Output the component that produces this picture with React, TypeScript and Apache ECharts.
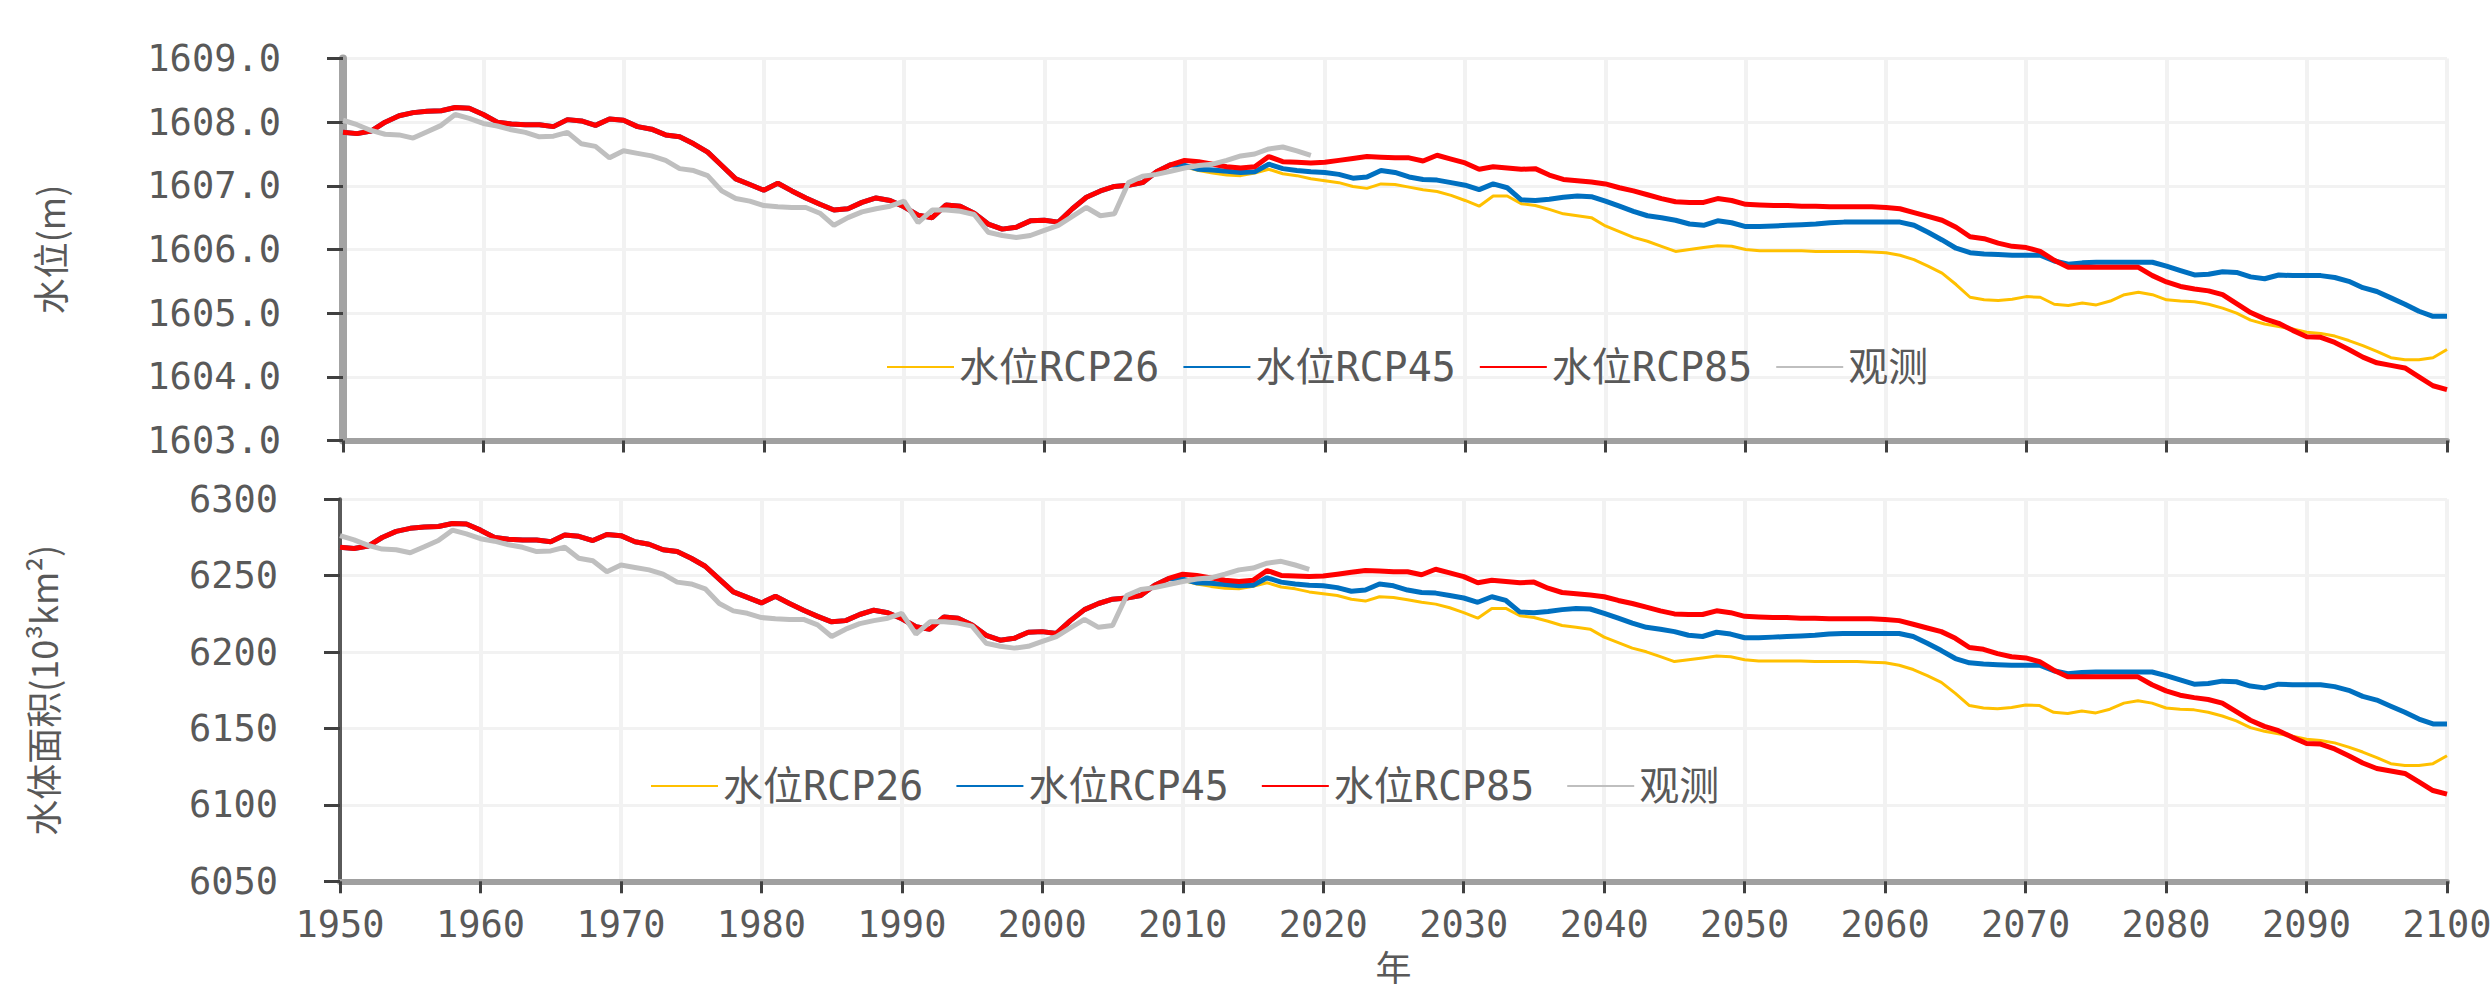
import React, { useEffect, useRef } from "react";
import * as echarts from "echarts";

// ---------- data ----------
const HIST_START = 1950;
const SCEN_START = 2010;
const OBS_START = 1950;

const seriesNames = ["水位RCP26", "水位RCP45", "水位RCP85", "观测"];
const seriesColors = ["#FFC000", "#0070C0", "#FF0000", "#BFBFBF"];

// 水位 (m)
const histLevel = [
  1607.84, 1607.82, 1607.86, 1608.0, 1608.1, 1608.15, 1608.17, 1608.18, 1608.23, 1608.22,
  1608.12, 1608.0, 1607.97, 1607.96, 1607.96, 1607.93, 1608.04, 1608.02, 1607.95, 1608.05,
  1608.03, 1607.93, 1607.89, 1607.8, 1607.77, 1607.66, 1607.53, 1607.32, 1607.11, 1607.02,
  1606.93, 1607.04, 1606.92, 1606.81, 1606.71, 1606.62, 1606.64, 1606.74, 1606.81, 1606.77,
  1606.67, 1606.54, 1606.5, 1606.7, 1606.68, 1606.57, 1606.4, 1606.32, 1606.35, 1606.45,
  1606.46, 1606.43, 1606.64, 1606.82, 1606.92, 1606.99, 1607.01, 1607.05, 1607.22, 1607.33,
];
const rcp26Level = [
  1607.3, 1607.24, 1607.2, 1607.17, 1607.16, 1607.2, 1607.26, 1607.19, 1607.16, 1607.11,
  1607.08, 1607.05, 1606.99, 1606.96, 1607.03, 1607.02, 1606.98, 1606.94, 1606.91, 1606.85,
  1606.77, 1606.68, 1606.84, 1606.84, 1606.72, 1606.69, 1606.63, 1606.56, 1606.53, 1606.5,
  1606.37, 1606.28, 1606.19, 1606.13, 1606.05, 1605.97, 1606.0, 1606.03, 1606.06, 1606.05,
  1606.0, 1605.98, 1605.98, 1605.98, 1605.98, 1605.97, 1605.97, 1605.97, 1605.97, 1605.96,
  1605.95, 1605.91, 1605.84, 1605.74, 1605.63, 1605.45, 1605.25, 1605.21, 1605.2, 1605.22,
  1605.26, 1605.25, 1605.14, 1605.12, 1605.16, 1605.13, 1605.19, 1605.29, 1605.33, 1605.29,
  1605.21, 1605.19, 1605.18, 1605.14, 1605.08, 1605.0, 1604.89, 1604.83, 1604.79, 1604.75,
  1604.7, 1604.68, 1604.64, 1604.57, 1604.49, 1604.4, 1604.3, 1604.27, 1604.27, 1604.3,
  1604.43,
];
const rcp45Level = [
  1607.32, 1607.26, 1607.25, 1607.23, 1607.21, 1607.22, 1607.34, 1607.27, 1607.24, 1607.22,
  1607.21, 1607.18, 1607.12, 1607.14, 1607.24, 1607.21, 1607.14, 1607.1, 1607.09, 1607.05,
  1607.01, 1606.94, 1607.03, 1606.97, 1606.78, 1606.77, 1606.79, 1606.82, 1606.84, 1606.83,
  1606.76, 1606.68, 1606.6, 1606.53, 1606.5, 1606.46, 1606.4, 1606.38, 1606.45, 1606.42,
  1606.36, 1606.36, 1606.37, 1606.38, 1606.39, 1606.4, 1606.42, 1606.43, 1606.43, 1606.43,
  1606.43, 1606.43, 1606.38, 1606.27, 1606.15, 1606.02, 1605.95, 1605.93, 1605.92, 1605.91,
  1605.91, 1605.91, 1605.82, 1605.77, 1605.79, 1605.8, 1605.8, 1605.8, 1605.8, 1605.8,
  1605.74, 1605.67, 1605.6, 1605.61, 1605.65, 1605.64, 1605.57, 1605.54, 1605.6, 1605.59,
  1605.59, 1605.59, 1605.56, 1605.5, 1605.4, 1605.34, 1605.24, 1605.14, 1605.03, 1604.95,
  1604.95,
];
const rcp85Level = [
  1607.4, 1607.38, 1607.34, 1607.3, 1607.28, 1607.3, 1607.46, 1607.38, 1607.37, 1607.36,
  1607.37, 1607.4, 1607.43, 1607.46, 1607.45, 1607.44, 1607.44, 1607.39, 1607.48, 1607.42,
  1607.36, 1607.26, 1607.3, 1607.28, 1607.26, 1607.27, 1607.17, 1607.1, 1607.08, 1607.06,
  1607.03, 1606.97, 1606.92, 1606.86, 1606.8, 1606.75, 1606.74, 1606.74, 1606.8, 1606.77,
  1606.71, 1606.7, 1606.69, 1606.69, 1606.68, 1606.68, 1606.67, 1606.67, 1606.67, 1606.67,
  1606.66, 1606.64, 1606.58, 1606.52, 1606.46, 1606.35, 1606.2, 1606.17, 1606.1, 1606.05,
  1606.03, 1605.97, 1605.83, 1605.72, 1605.72, 1605.72, 1605.72, 1605.72, 1605.72, 1605.59,
  1605.49, 1605.42, 1605.38, 1605.35, 1605.29, 1605.15, 1605.01, 1604.91, 1604.84, 1604.73,
  1604.63, 1604.62, 1604.54, 1604.43, 1604.31, 1604.22, 1604.18, 1604.14, 1604.0, 1603.86,
  1603.8,
];
const obsLevel = [
  1608.03, 1607.96, 1607.87, 1607.81, 1607.8, 1607.75, 1607.85, 1607.95, 1608.12, 1608.06,
  1607.98, 1607.94, 1607.88, 1607.84, 1607.77, 1607.78, 1607.84, 1607.66, 1607.62, 1607.44,
  1607.55, 1607.51, 1607.47, 1607.4, 1607.27, 1607.24, 1607.16, 1606.92, 1606.8, 1606.76,
  1606.69, 1606.67, 1606.66, 1606.66, 1606.57, 1606.38, 1606.5, 1606.59, 1606.64, 1606.68,
  1606.76, 1606.42, 1606.62, 1606.62, 1606.6, 1606.55, 1606.27, 1606.22, 1606.19, 1606.22,
  1606.3, 1606.38, 1606.52, 1606.66, 1606.53, 1606.56, 1607.05, 1607.15, 1607.18, 1607.23,
  1607.28, 1607.32, 1607.34, 1607.4, 1607.47, 1607.5, 1607.58, 1607.61, 1607.55, 1607.48,
];

// 水体面积 (10^3 km^2)
const histArea = [
  6268.6, 6267.8, 6269.4, 6275.0, 6279.0, 6281.0, 6281.8, 6282.2, 6284.2, 6283.8,
  6279.8, 6275.0, 6273.8, 6273.4, 6273.4, 6272.2, 6276.6, 6275.8, 6273.0, 6277.0,
  6276.2, 6272.2, 6270.6, 6267.0, 6265.8, 6261.4, 6256.2, 6247.8, 6239.4, 6235.8,
  6232.2, 6236.6, 6231.8, 6227.4, 6223.4, 6219.8, 6220.6, 6224.6, 6227.4, 6225.8,
  6221.8, 6216.6, 6215.0, 6223.0, 6222.2, 6217.8, 6211.0, 6207.8, 6209.0, 6213.0,
  6213.4, 6212.2, 6220.6, 6227.8, 6231.8, 6234.6, 6235.4, 6237.0, 6243.8, 6248.2,
];
const rcp26Area = [
  6247.0, 6244.6, 6243.0, 6241.8, 6241.4, 6243.0, 6245.4, 6242.6, 6241.4, 6239.4,
  6238.2, 6237.0, 6234.6, 6233.4, 6236.2, 6235.8, 6234.2, 6232.6, 6231.4, 6229.0,
  6225.8, 6222.2, 6228.6, 6228.6, 6223.8, 6222.6, 6220.2, 6217.4, 6216.2, 6215.0,
  6209.8, 6206.2, 6202.6, 6200.2, 6197.0, 6193.8, 6195.0, 6196.2, 6197.4, 6197.0,
  6195.0, 6194.2, 6194.2, 6194.2, 6194.2, 6193.8, 6193.8, 6193.8, 6193.8, 6193.4,
  6193.0, 6191.4, 6188.6, 6184.6, 6180.2, 6173.0, 6165.0, 6163.4, 6163.0, 6163.8,
  6165.4, 6165.0, 6160.6, 6159.8, 6161.4, 6160.2, 6162.6, 6166.6, 6168.2, 6166.6,
  6163.4, 6162.6, 6162.2, 6160.6, 6158.2, 6155.0, 6150.6, 6148.2, 6146.6, 6145.0,
  6143.0, 6142.2, 6140.6, 6137.8, 6134.6, 6131.0, 6127.0, 6125.8, 6125.8, 6127.0,
  6132.2,
];
const rcp45Area = [
  6247.8, 6245.4, 6245.0, 6244.2, 6243.4, 6243.8, 6248.6, 6245.8, 6244.6, 6243.8,
  6243.4, 6242.2, 6239.8, 6240.6, 6244.6, 6243.4, 6240.6, 6239.0, 6238.6, 6237.0,
  6235.4, 6232.6, 6236.2, 6233.8, 6226.2, 6225.8, 6226.6, 6227.8, 6228.6, 6228.2,
  6225.4, 6222.2, 6219.0, 6216.2, 6215.0, 6213.4, 6211.0, 6210.2, 6213.0, 6211.8,
  6209.4, 6209.4, 6209.8, 6210.2, 6210.6, 6211.0, 6211.8, 6212.2, 6212.2, 6212.2,
  6212.2, 6212.2, 6210.2, 6205.8, 6201.0, 6195.8, 6193.0, 6192.2, 6191.8, 6191.4,
  6191.4, 6191.4, 6187.8, 6185.8, 6186.6, 6187.0, 6187.0, 6187.0, 6187.0, 6187.0,
  6184.6, 6181.8, 6179.0, 6179.4, 6181.0, 6180.6, 6177.8, 6176.6, 6179.0, 6178.6,
  6178.6, 6178.6, 6177.4, 6175.0, 6171.0, 6168.6, 6164.6, 6160.6, 6156.2, 6153.0,
  6153.0,
];
const rcp85Area = [
  6251.0, 6250.2, 6248.6, 6247.0, 6246.2, 6247.0, 6253.4, 6250.2, 6249.8, 6249.4,
  6249.8, 6251.0, 6252.2, 6253.4, 6253.0, 6252.6, 6252.6, 6250.6, 6254.2, 6251.8,
  6249.4, 6245.4, 6247.0, 6246.2, 6245.4, 6245.8, 6241.8, 6239.0, 6238.2, 6237.4,
  6236.2, 6233.8, 6231.8, 6229.4, 6227.0, 6225.0, 6224.6, 6224.6, 6227.0, 6225.8,
  6223.4, 6223.0, 6222.6, 6222.6, 6222.2, 6222.2, 6221.8, 6221.8, 6221.8, 6221.8,
  6221.4, 6220.6, 6218.2, 6215.8, 6213.4, 6209.0, 6203.0, 6201.8, 6199.0, 6197.0,
  6196.2, 6193.8, 6188.2, 6183.8, 6183.8, 6183.8, 6183.8, 6183.8, 6183.8, 6178.6,
  6174.6, 6171.8, 6170.2, 6169.0, 6166.6, 6161.0, 6155.4, 6151.4, 6148.6, 6144.2,
  6140.2, 6139.8, 6136.6, 6132.2, 6127.4, 6123.8, 6122.2, 6120.6, 6115.0, 6109.4,
  6107.0,
];
const obsArea = [
  6276.2, 6273.4, 6269.8, 6267.4, 6267.0, 6265.0, 6269.0, 6273.0, 6279.8, 6277.4,
  6274.2, 6272.6, 6270.2, 6268.6, 6265.8, 6266.2, 6268.6, 6261.4, 6259.8, 6252.6,
  6257.0, 6255.4, 6253.8, 6251.0, 6245.8, 6244.6, 6241.4, 6231.8, 6227.0, 6225.4,
  6222.6, 6221.8, 6221.4, 6221.4, 6217.8, 6210.2, 6215.0, 6218.6, 6220.6, 6222.2,
  6225.4, 6211.8, 6219.8, 6219.8, 6219.0, 6217.0, 6205.8, 6203.8, 6202.6, 6203.8,
  6207.0, 6210.2, 6215.8, 6221.4, 6216.2, 6217.4, 6237.0, 6241.0, 6242.2, 6244.2,
  6246.2, 6247.8, 6248.6, 6251.0, 6253.8, 6255.0, 6258.2, 6259.4, 6257.0, 6254.2,
];

// ---------- helpers ----------
const toPairs = (start: number, arr: number[]) => arr.map((v, i) => [start + i, v]);
const withHist = (hist: number[], scen: number[]) =>
  toPairs(HIST_START, hist).concat(toPairs(SCEN_START, scen));

const TICK_FONT = "'DejaVu Sans Mono', monospace";
const TEXT_FONT = "'DejaVu Sans Mono', 'Noto Sans CJK SC', sans-serif";
const CJK_FONT = "'Noto Sans CJK SC', sans-serif";
const TEXT_COLOR = "#595959";

function makeSeries(hist: number[], s26: number[], s45: number[], s85: number[], obs: number[]) {
  const widths = [3, 5, 5, 5];
  const datas = [withHist(hist, s26), withHist(hist, s45), withHist(hist, s85), toPairs(OBS_START, obs)];
  return seriesNames.map((name, i) => ({
    name,
    type: "line",
    data: datas[i],
    showSymbol: false,
    symbol: "none",
    color: seriesColors[i],
    lineStyle: { color: seriesColors[i], width: widths[i] },
    z: 2 + i,
    emphasis: { disabled: true },
  }));
}

type Cfg = {
  gridLeft: number;
  gridTop: number;
  yMin: number;
  yMax: number;
  yInterval: number;
  yDecimals: number;
  yName: string;
  yNameGap: number;
  yLineColor: string;
  yLineWidth: number;
  xLabelMargin: number;
  xName: string;
  legendLeft: number;
  legendTop: number;
  legendGap: number;
  series: any[];
};

function buildOption(c: Cfg) {
  return {
    animation: false,
    backgroundColor: "#ffffff",
    grid: {
      left: c.gridLeft,
      right: 44,
      top: c.gridTop,
      height: 382,
      containLabel: false,
      outerBoundsMode: "none",
    },
    legend: {
      data: seriesNames,
      left: c.legendLeft,
      top: c.legendTop,
      padding: 0,
      itemWidth: 67,
      itemHeight: 14,
      itemGap: c.legendGap,
      itemStyle: { opacity: 0 },
      textStyle: { fontFamily: TEXT_FONT, fontSize: 40, color: TEXT_COLOR },
    },
    xAxis: {
      type: "value",
      min: 1950,
      max: 2100,
      interval: 10,
      name: c.xName,
      nameLocation: "middle",
      nameGap: 66,
      nameTextStyle: { fontFamily: CJK_FONT, fontSize: 36, color: TEXT_COLOR },
      axisLine: { show: true, onZero: false, lineStyle: { color: "#a0a0a0", width: 6 } },
      axisTick: { show: true, length: 12, lineStyle: { color: "#404040", width: 3 } },
      axisLabel: {
        show: true,
        margin: c.xLabelMargin,
        fontFamily: TICK_FONT,
        fontSize: 37,
        color: TEXT_COLOR,
        formatter: (v: number) => String(v),
      },
      splitLine: { show: true, lineStyle: { color: "#f2f2f2", width: 4 } },
    },
    yAxis: {
      type: "value",
      min: c.yMin,
      max: c.yMax,
      interval: c.yInterval,
      name: c.yName,
      nameLocation: "middle",
      nameRotate: 90,
      nameGap: c.yNameGap,
      nameTextStyle: { fontFamily: CJK_FONT, fontSize: 36, color: TEXT_COLOR },
      axisLine: { show: true, onZero: false, lineStyle: { color: c.yLineColor, width: c.yLineWidth } },
      axisTick: { show: true, length: 16, lineStyle: { color: "#404040", width: 3 } },
      axisLabel: {
        show: true,
        margin: 62,
        fontFamily: TICK_FONT,
        fontSize: 37,
        color: TEXT_COLOR,
        formatter: (v: number) => v.toFixed(c.yDecimals),
      },
      splitLine: { show: true, lineStyle: { color: "#f2f2f2", width: 3 } },
    },
    series: c.series,
  };
}

function ChartBox(props: { style: React.CSSProperties; option: any }) {
  const ref = useRef<HTMLDivElement>(null);
  useEffect(() => {
    if (!ref.current) return;
    const chart = echarts.init(ref.current, undefined, { renderer: "svg" });
    chart.setOption(props.option);
    return () => chart.dispose();
  }, []);
  return <div ref={ref} style={props.style} />;
}

export default function App() {
  const topOption = buildOption({
    gridLeft: 343,
    gridTop: 58.5,
    yMin: 1603,
    yMax: 1609,
    yInterval: 1,
    yDecimals: 1,
    yName: "水位(m)",
    yNameGap: 276,
    yLineColor: "#a3a3a3",
    yLineWidth: 8,
    xLabelMargin: 27,
    xName: "",
    legendLeft: 886,
    legendTop: 347,
    legendGap: 23,
    series: makeSeries(histLevel, rcp26Level, rcp45Level, rcp85Level, obsLevel),
  });
  const bottomOption = buildOption({
    gridLeft: 340,
    gridTop: 32.3,
    yMin: 6050,
    yMax: 6300,
    yInterval: 50,
    yDecimals: 0,
    yName: "水体面积(10³km²)",
    yNameGap: 280,
    yLineColor: "#5a5a5a",
    yLineWidth: 4,
    xLabelMargin: 25,
    xName: "年",
    legendLeft: 650,
    legendTop: 299,
    legendGap: 32,
    series: makeSeries(histArea, rcp26Area, rcp45Area, rcp85Area, obsArea),
  });
  return (
    <div style={{ position: "absolute", left: 0, top: 0, width: 2491, height: 984, background: "#fff" }}>
      <ChartBox
        option={topOption}
        style={{ position: "absolute", left: 0, top: 0, width: 2491, height: 467, overflow: "hidden" }}
      />
      <ChartBox
        option={bottomOption}
        style={{ position: "absolute", left: 0, top: 467, width: 2491, height: 517, overflow: "hidden" }}
      />
    </div>
  );
}
